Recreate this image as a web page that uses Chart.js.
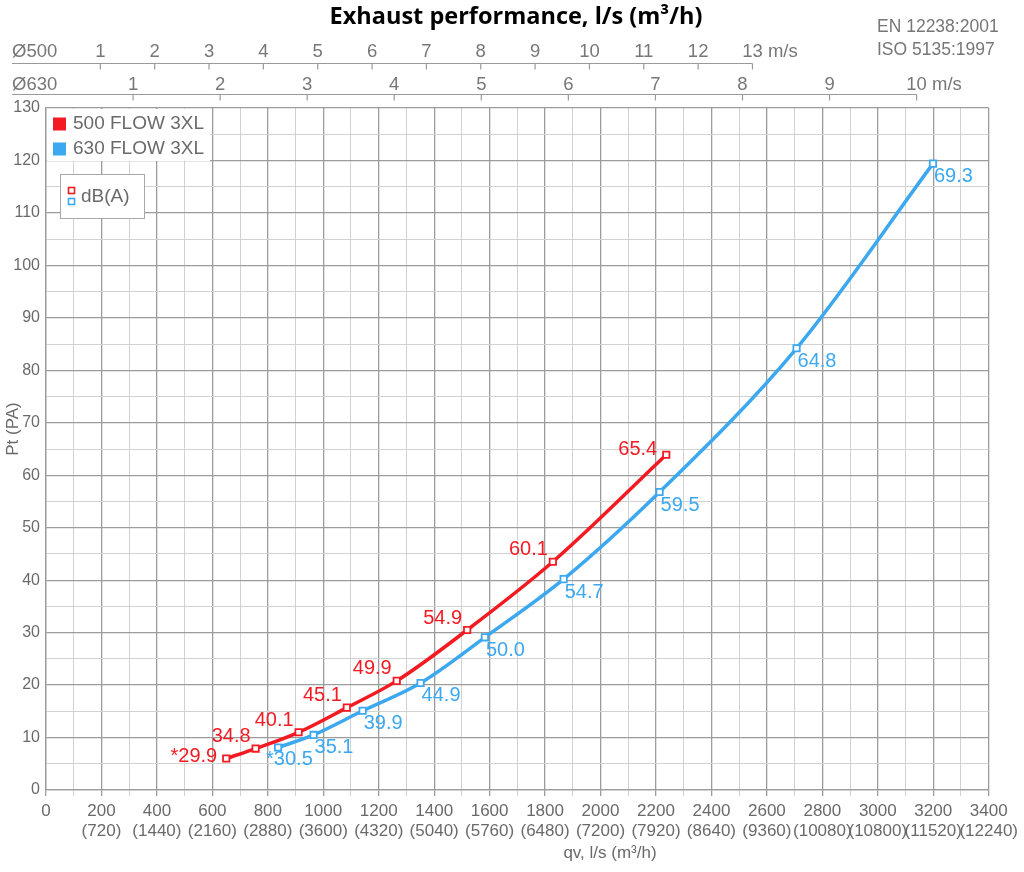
<!DOCTYPE html>
<html><head><meta charset="utf-8">
<script src="https://cdn.jsdelivr.net/npm/chart.js@4.4.1/dist/chart.umd.min.js"></script>
<style>html,body{margin:0;padding:0;background:#fff;}#wrap{width:1024px;height:872px;}</style>
</head><body><div id="wrap"><canvas id="c" width="1024" height="872"></canvas></div>
<script>
// ---- data ----
const flow500 = [650, 756, 911, 1085, 1265, 1519, 1828, 2237];
const pt500   = [6.0, 7.9, 11.0, 15.7, 20.8, 30.5, 43.5, 63.9];
const db500   = ['*29.9', '34.8', '40.1', '45.1', '49.9', '54.9', '60.1', '65.4'];

const flow630 = [837, 965, 1142, 1351, 1583, 1867, 2213, 2707, 3199];
const pt630   = [8.1, 10.5, 15.1, 20.4, 29.1, 40.2, 56.8, 84.2, 119.4];
const db630   = ['*30.5', '35.1', '39.9', '44.9', '50.0', '54.7', '59.5', '64.8', '69.3'];

const seriesNames = ['500 FLOW 3XL', '630 FLOW 3XL'];

const qvTicks  = [0, 200, 400, 600, 800, 1000, 1200, 1400, 1600, 1800, 2000, 2200, 2400, 2600, 2800, 3000, 3200, 3400];
const m3hTicks = ['', '(720)', '(1440)', '(2160)', '(2880)', '(3600)', '(4320)', '(5040)', '(5760)', '(6480)', '(7200)', '(7920)', '(8640)', '(9360)', '(10080)', '(10800)', '(11520)', '(12240)'];
const yTicks   = [0, 10, 20, 30, 40, 50, 60, 70, 80, 90, 100, 110, 120, 130];

const v500Ticks = [1, 2, 3, 4, 5, 6, 7, 8, 9, 10, 11, 12, 13];
const v630Ticks = [1, 2, 3, 4, 5, 6, 7, 8, 9, 10];
const lps500PerMs = 196;   // l/s per 1 m/s in Ø500 duct
const lps630PerMs = 314;   // l/s per 1 m/s in Ø630 duct

// ---- styles ----
const RED = '#f41a22', BLUE = '#3ca8f0';
const GRID_MAJOR = '#9c9c9c', GRID_MINOR = '#d2d2d2';
const TXT = '#6a6a6a';
const FONT = "'Liberation Sans', Arial, sans-serif";

const decor = {
  id: 'decor',
  afterDraw(chart) {
    const ctx = chart.ctx, x = chart.scales.x, ca = chart.chartArea;
    ctx.save();
    // title
    ctx.fillStyle = '#000';
    ctx.font = "bold 23.5px 'Open Sans', sans-serif";
    ctx.textAlign = 'center'; ctx.textBaseline = 'alphabetic';
    ctx.fillText('Exhaust performance, l/s (m³/h)', 516, 24);
    // standards
    ctx.fillStyle = '#777'; ctx.font = '17.5px ' + FONT;
    ctx.textAlign = 'left'; ctx.textBaseline = 'middle';
    ctx.fillText('EN 12238:2001', 877, 27);
    ctx.fillText('ISO 5135:1997', 877, 50);

    // velocity axes
    const velAxis = (name, ticks, k, yText, yLine) => {
      ctx.strokeStyle = '#9a9a9a'; ctx.lineWidth = 1.2;
      const last = x.getPixelForValue(ticks[ticks.length - 1] * k);
      ctx.beginPath(); ctx.moveTo(12, yLine); ctx.lineTo(last, yLine); ctx.stroke();
      ctx.font = '18.5px ' + FONT; ctx.fillStyle = '#777'; ctx.textBaseline = 'middle';
      ctx.textAlign = 'left'; ctx.fillText(name, 12, yText);
      ticks.forEach((v, i) => {
        const px = x.getPixelForValue(v * k);
        ctx.beginPath(); ctx.moveTo(px, yLine); ctx.lineTo(px, yLine + 6); ctx.stroke();
        const s = String(v);
        const w = ctx.measureText(s).width;
        ctx.textAlign = 'left';
        ctx.fillText(i === ticks.length - 1 ? s + ' m/s' : s, px - w / 2, yText);
      });
    };
    velAxis('Ø500', v500Ticks, lps500PerMs, 52, 63.5);
    velAxis('Ø630', v630Ticks, lps630PerMs, 85, 94.5);

    // axis titles
    ctx.fillStyle = TXT; ctx.font = '17px ' + FONT;
    ctx.textAlign = 'center'; ctx.textBaseline = 'middle';
    ctx.fillText('qv, l/s (m³/h)', 610, 853);
    ctx.save(); ctx.translate(13, 429); ctx.rotate(-Math.PI / 2);
    ctx.fillText('Pt (PA)', 0, 0); ctx.restore();

    // series legend
    ctx.fillStyle = '#fff';
    ctx.fillRect(ca.left + 1, ca.top + 1, 163, 52);
    const colors = [RED, BLUE];
    ctx.font = '19px ' + FONT; ctx.textAlign = 'left'; ctx.textBaseline = 'middle';
    seriesNames.forEach((n, i) => {
      const cy = 124 + i * 25;
      ctx.fillStyle = colors[i]; ctx.fillRect(53, cy - 6.5, 13, 13);
      ctx.fillStyle = TXT; ctx.fillText(n, 73, cy);
    });
    // dB(A) box
    ctx.fillStyle = '#fff'; ctx.fillRect(60.5, 174.5, 84, 44);
    ctx.strokeStyle = '#a8a8a8'; ctx.lineWidth = 1; ctx.strokeRect(60.5, 174.5, 84, 44);
    ctx.lineWidth = 1.6;
    ctx.strokeStyle = RED; ctx.strokeRect(68.5, 187.5, 6, 6);
    ctx.strokeStyle = BLUE; ctx.strokeRect(68.5, 198.5, 6, 6);
    ctx.fillStyle = TXT; ctx.font = '19px ' + FONT; ctx.fillText('dB(A)', 81, 197);

    // dB labels
    const cfg = [
      { texts: db500, color: RED, align: 'right', dx: -5, dy: -12, first: [-9, -2], last: [-9, -5] },
      { texts: db630, color: BLUE, align: 'left', dx: 1, dy: 13, first: [-12, 12], last: null }
    ];
    ctx.font = '20px ' + FONT; ctx.textBaseline = 'middle';
    cfg.forEach((c, di) => {
      const meta = chart.getDatasetMeta(di);
      ctx.fillStyle = c.color; ctx.textAlign = c.align;
      meta.data.forEach((pt, i) => {
        let off = [c.dx, c.dy];
        if (i === 0 && c.first) off = c.first;
        if (i === meta.data.length - 1 && c.last) off = c.last;
        ctx.fillText(c.texts[i], pt.x + off[0], pt.y + off[1]);
      });
    });
    ctx.restore();
  }
};

const gridColor = (step) => (c) => (c.tick && Math.round(c.tick.value) % step === 0) ? GRID_MAJOR : GRID_MINOR;

new Chart(document.getElementById('c'), {
  type: 'line',
  data: {
    datasets: [
      { label: seriesNames[0], data: flow500.map((v, i) => ({ x: v, y: pt500[i] })),
        borderColor: RED, backgroundColor: '#fff', borderWidth: 3.5,
        pointStyle: 'rect', pointRadius: 4.5, pointBorderWidth: 1.8, pointBorderColor: RED, pointBackgroundColor: '#fff',
        cubicInterpolationMode: 'monotone' },
      { label: seriesNames[1], data: flow630.map((v, i) => ({ x: v, y: pt630[i] })),
        borderColor: BLUE, backgroundColor: '#fff', borderWidth: 3.5,
        pointStyle: 'rect', pointRadius: 4.5, pointBorderWidth: 1.8, pointBorderColor: BLUE, pointBackgroundColor: '#fff',
        cubicInterpolationMode: 'monotone' }
    ]
  },
  options: {
    responsive: false, animation: false, devicePixelRatio: 1,
    layout: { padding: { top: 108, right: 30, left: 0, bottom: 0 } },
    plugins: { legend: { display: false }, tooltip: { enabled: false } },
    scales: {
      x: {
        type: 'linear', min: 0, max: 3400,
        afterFit: (s) => { s.height = 82; },
        ticks: {
          stepSize: 100, autoSkip: false, maxRotation: 0, minRotation: 0, padding: 6,
          color: TXT, font: { family: FONT, size: 17, lineHeight: 1.15 },
          callback: (v) => {
            const i = qvTicks.indexOf(v);
            if (i < 0) return '';
            return i === 0 ? String(v) : [String(v), m3hTicks[i]];
          }
        },
        grid: { color: gridColor(200), lineWidth: (c) => (c.tick && c.tick.value % 200 === 0) ? 1.3 : 1, tickLength: 6 },
        border: { color: GRID_MAJOR, width: 1.3 }
      },
      y: {
        type: 'linear', min: 0, max: 130,
        afterFit: (s) => { s.width = 46; },
        ticks: {
          stepSize: 5, autoSkip: false, padding: 6,
          color: TXT, font: { family: FONT, size: 16 },
          callback: (v) => yTicks.includes(v) ? String(v) : ''
        },
        grid: { color: gridColor(10), lineWidth: (c) => (c.tick && c.tick.value % 10 === 0) ? 1.3 : 1, drawTicks: false },
        border: { color: GRID_MAJOR, width: 1.3 }
      }
    }
  },
  plugins: [decor]
});
</script></body></html>
